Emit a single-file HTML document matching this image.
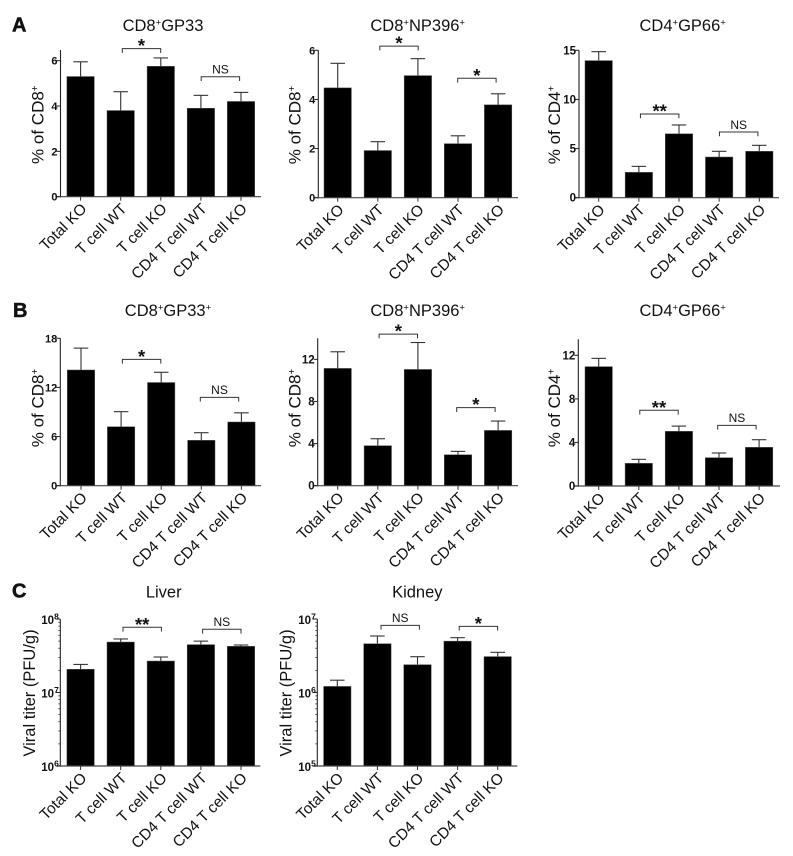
<!DOCTYPE html>
<html lang="en">
<head>
<meta charset="utf-8">
<title>T cell knockout bar charts</title>
<style>
html,body{margin:0;padding:0;background:#fff;}
svg{display:block;}
text{font-family:"Liberation Sans",Arial,sans-serif;fill:#111;}
</style>
</head>
<body>
<svg id="figure" width="793" height="856" viewBox="0 0 793 856" xmlns="http://www.w3.org/2000/svg">
  <text x="12" y="31.5" font-size="20" font-weight="bold" stroke="#111" stroke-width="0.5">A</text>
  <text x="13" y="317" font-size="20" font-weight="bold" stroke="#111" stroke-width="0.5">B</text>
  <text x="12" y="597.5" font-size="20" font-weight="bold" stroke="#111" stroke-width="0.5">C</text>
</svg>
<script>
const categories = ['Total KO', 'T cell WT', 'T cell KO', 'CD4 T cell WT', 'CD4 T cell KO'];

const a1Values = [5.3, 3.8, 5.75, 3.9, 4.2];
const a1ErrorTops = [5.95, 4.63, 6.12, 4.47, 4.6];
const a1Ticks = [0, 2, 4, 6];
const a1Brackets = [
  { from: 1, to: 2, level: 6.53, label: '*', shift: 1.6 },
  { from: 3, to: 4, level: 5.29, label: 'NS', shift: 0.3 }
];

const a2Values = [4.47, 1.92, 4.97, 2.2, 3.78];
const a2ErrorTops = [5.47, 2.28, 5.66, 2.52, 4.23];
const a2Ticks = [0, 2, 4, 6];
const a2Brackets = [
  { from: 1, to: 2, level: 6.17, label: '*', shift: 2 },
  { from: 3, to: 4, level: 4.86, label: '*', shift: -0.3 }
];

const a3Values = [13.95, 2.58, 6.5, 4.14, 4.72];
const a3ErrorTops = [14.86, 3.19, 7.4, 4.72, 5.33];
const a3Ticks = [0, 5, 10, 15];
const a3Brackets = [
  { from: 1, to: 2, level: 8.52, label: '**', shift: 1.6 },
  { from: 3, to: 4, level: 6.69, label: 'NS', shift: 0.3 }
];

const b1Values = [14.13, 7.2, 12.6, 5.54, 7.78];
const b1ErrorTops = [16.8, 9.04, 13.85, 6.47, 8.9];
const b1Ticks = [0, 6, 12, 18];
const b1Brackets = [
  { from: 1, to: 2, level: 15.43, label: '*', shift: 1.3 },
  { from: 3, to: 4, level: 10.79, label: 'NS', shift: -1 }
];

const b2Values = [11.14, 3.8, 11.04, 2.94, 5.25];
const b2ErrorTops = [12.72, 4.46, 13.6, 3.26, 6.14];
const b2Ticks = [0, 4, 8, 12];
const b2Brackets = [
  { from: 1, to: 2, level: 14.4, label: '*', shift: 1.3 },
  { from: 3, to: 4, level: 7.41, label: '*', shift: -1.3 }
];

const b3Values = [10.96, 2.08, 5.02, 2.6, 3.55];
const b3ErrorTops = [11.72, 2.45, 5.5, 3.03, 4.25];
const b3Ticks = [0, 4, 8, 12];
const b3Brackets = [
  { from: 1, to: 2, level: 6.95, label: '**', shift: 1 },
  { from: 3, to: 4, level: 5.57, label: 'NS', shift: -1.3 }
];

const c1Values = [2.07e7, 4.86e7, 2.68e7, 4.48e7, 4.25e7];
const c1ErrorTops = [2.41e7, 5.35e7, 3.04e7, 5.0e7, 4.43e7];
const c1TickExponents = [6, 7, 8];
const c1Brackets = [
  { from: 1, to: 2, level: 7.71e7, label: '**', shift: 2.3 },
  { from: 3, to: 4, level: 7.24e7, label: 'NS', shift: 1.7 }
];

const c2Values = [1.21e6, 4.61e6, 2.39e6, 5.0e6, 3.08e6];
const c2ErrorTops = [1.47e6, 5.87e6, 3.07e6, 5.57e6, 3.52e6];
const c2TickExponents = [5, 6, 7];
const c2Brackets = [
  { from: 1, to: 2, level: 8.2e6, label: 'NS', shift: 3.6 },
  { from: 3, to: 4, level: 7.95e6, label: '*', shift: 1.6 }
];

const SVG_NS = 'http://www.w3.org/2000/svg';
const figure = document.getElementById('figure');

function addShape(parent, tag, attrs) {
  const el = document.createElementNS(SVG_NS, tag);
  for (const key in attrs) el.setAttribute(key, attrs[key]);
  parent.appendChild(el);
  return el;
}

function addSegments(textEl, segments) {
  segments.forEach(function (seg) {
    const span = document.createElementNS(SVG_NS, 'tspan');
    if (seg.sup) {
      span.setAttribute('font-size', seg.sup);
      span.setAttribute('dy', seg.rise);
    } else if (seg.drop) {
      span.setAttribute('dy', seg.drop);
    }
    span.textContent = seg.text;
    textEl.appendChild(span);
  });
}

// "+" becomes a small raised glyph, everything else stays at body size.
function markedSegments(label, size) {
  const rise = size * 0.32;
  const out = [];
  let pending = 0;
  label.split(/(\+)/).forEach(function (part) {
    if (!part) return;
    if (part === '+') {
      out.push({ text: '+', sup: size * 0.58, rise: -rise });
      pending = rise;
    } else {
      out.push({ text: part, drop: pending });
      pending = 0;
    }
  });
  return out;
}

function drawPanel(cfg) {
  const g = addShape(figure, 'g', {});
  
  

  const yScale = cfg.log
    ? function (v) {
        const lo = Math.log10(cfg.domainMin), hi = Math.log10(cfg.domainMax);
        return cfg.bottom - (Math.log10(v) - lo) / (hi - lo) * (cfg.bottom - cfg.top);
      }
    : function (v) {
        return cfg.bottom - v / cfg.domainMax * (cfg.bottom - cfg.top);
      };
  const xScale = function (i) { return cfg.firstX + i * cfg.step; };
  const barW = 27.4;
  const capW = 14.5;

  // bars and error bars
  cfg.values.forEach(function (v, i) {
    const cx = xScale(i);
    const top = yScale(v);
    const err = yScale(cfg.errorTops[i]);
    const stem = addShape(g, 'line', { x1: cx, x2: cx, y1: top, y2: err, stroke: '#333', 'stroke-width': 1.1 });
    
    
    const cap = addShape(g, 'line', { x1: cx - capW / 2, x2: cx + capW / 2, y1: err, y2: err, stroke: '#333', 'stroke-width': 1.1 });
    
    
    const bar = addShape(g, 'rect', { x: cx - barW / 2, y: top, width: barW, height: cfg.bottom - top, fill: '#000', stroke: '#555', 'stroke-width': 0.5 });
    
    
  });

  // axes
  const yAxis = addShape(g, 'line', { x1: cfg.axisX, x2: cfg.axisX, y1: cfg.top, y2: cfg.bottom + 0.6, stroke: '#222', 'stroke-width': 1.1 });
  
  
  const xAxis = addShape(g, 'line', { x1: cfg.axisX - 4, x2: cfg.axisEnd, y1: cfg.bottom, y2: cfg.bottom, stroke: '#444', 'stroke-width': 1.2 });
  
  

  // y ticks
  if (cfg.log) {
    cfg.tickExponents.forEach(function (e, idx) {
      const p = Math.pow(10, e);
      const y = yScale(p);
      const tick = addShape(g, 'line', { x1: cfg.axisX - 4, x2: cfg.axisX, y1: y, y2: y, stroke: '#222', 'stroke-width': 1 });
      
      
      const label = addShape(g, 'text', { x: cfg.axisX - 1.5, y: y + 5, 'text-anchor': 'end', 'font-size': 11.5, 'font-weight': 'bold' });
      
      
      addSegments(label, [{ text: '10' }, { text: String(e), sup: 8.5, rise: -4.5 }]);
      if (idx < cfg.tickExponents.length - 1) {
        for (let m = 2; m <= 9; m++) {
          const ym = yScale(m * p);
          const minor = addShape(g, 'line', { x1: cfg.axisX - 2, x2: cfg.axisX, y1: ym, y2: ym, stroke: '#333', 'stroke-width': 0.8 });
          
          
        }
      }
    });
  } else {
    cfg.ticks.forEach(function (t) {
      const y = yScale(t);
      const tick = addShape(g, 'line', { x1: cfg.axisX - 4, x2: cfg.axisX, y1: y, y2: y, stroke: '#222', 'stroke-width': 1 });
      
      
      const label = addShape(g, 'text', { x: cfg.axisX - 3, y: y + 4, 'text-anchor': 'end', 'font-size': cfg.tickSize, 'font-weight': 'bold' });
      
      
      label.textContent = t;
    });
  }

  // x ticks and rotated category labels
  categories.forEach(function (c, i) {
    const cx = xScale(i);
    const tick = addShape(g, 'line', { x1: cx, x2: cx, y1: cfg.bottom, y2: cfg.bottom + 4, stroke: '#333', 'stroke-width': 1 });
    
    
    const lx = cx + 7;
    const ly = cfg.bottom + 13;
    const label = addShape(g, 'text', { x: lx, y: ly, 'text-anchor': 'end', 'font-size': 15.4, transform: 'rotate(-45 ' + lx + ' ' + ly + ')' });
    
    
    label.textContent = c;
  });

  // significance brackets
  cfg.brackets.forEach(function (b) {
    const x1 = xScale(b.from) + b.shift;
    const x2 = xScale(b.to) + b.shift - 1.7;
    const y = yScale(b.level);
    const path = addShape(g, 'path', { d: 'M' + x1 + ' ' + (y + 4.3) + 'V' + y + 'H' + x2 + 'V' + (y + 4.3), fill: 'none', stroke: '#333', 'stroke-width': 1 });
    
    
    const isStar = b.label !== 'NS';
    const mark = addShape(g, 'text', {
      x: (x1 + x2) / 2,
      y: isStar ? y + 3.5 : y - 3.2,
      'text-anchor': 'middle',
      'font-size': isStar ? 18.5 : 12,
      'font-weight': isStar ? 'bold' : 'normal'
    });
    
    
    mark.textContent = b.label;
  });

  // title
  const title = addShape(g, 'text', { x: cfg.titleX, y: cfg.titleY, 'text-anchor': 'middle', 'font-size': 16.5 });
  
  
  addSegments(title, markedSegments(cfg.title, 16.5));

  // y-axis title
  const yTitleSize = cfg.log ? 16.5 : 17;
  const yTitle = addShape(g, 'text', {
    x: cfg.yTitleX, y: cfg.yTitleY, 'text-anchor': 'middle', 'font-size': yTitleSize,
    transform: 'rotate(-90 ' + cfg.yTitleX + ' ' + cfg.yTitleY + ')'
  });
  
  
  addSegments(yTitle, markedSegments(cfg.yTitle, yTitleSize));
}

drawPanel({ name: 'chart-a-gp33', title: 'CD8+GP33', yTitle: '% of CD8+', values: a1Values, errorTops: a1ErrorTops, ticks: a1Ticks, brackets: a1Brackets, tickSize: 11,
  domainMax: 6.47, top: 50, bottom: 196.7, axisX: 60.5, axisEnd: 261, firstX: 80.6, step: 40.1, titleX: 163, titleY: 31, yTitleX: 43.5, yTitleY: 124.7 });
drawPanel({ name: 'chart-a-np396', title: 'CD8+NP396+', yTitle: '% of CD8+', values: a2Values, errorTops: a2ErrorTops, ticks: a2Ticks, brackets: a2Brackets, tickSize: 11,
  domainMax: 6, top: 50.3, bottom: 197.7, axisX: 318.3, axisEnd: 518, firstX: 337.7, step: 40.1, titleX: 417.7, titleY: 31, yTitleX: 300.7, yTitleY: 125 });
drawPanel({ name: 'chart-a-gp66', title: 'CD4+GP66+', yTitle: '% of CD4+', values: a3Values, errorTops: a3ErrorTops, ticks: a3Ticks, brackets: a3Brackets, tickSize: 11.5,
  domainMax: 15, top: 50.3, bottom: 197.7, axisX: 579, axisEnd: 779, firstX: 598.7, step: 40.15, titleX: 682.7, titleY: 31, yTitleX: 560, yTitleY: 125 });

drawPanel({ name: 'chart-b-gp33', title: 'CD8+GP33+', yTitle: '% of CD8+', values: b1Values, errorTops: b1ErrorTops, ticks: b1Ticks, brackets: b1Brackets, tickSize: 11,
  domainMax: 18, top: 338.3, bottom: 485.7, axisX: 60.3, axisEnd: 261, firstX: 81, step: 40.1, titleX: 168, titleY: 316, yTitleX: 43.5, yTitleY: 408 });
drawPanel({ name: 'chart-b-np396', title: 'CD8+NP396+', yTitle: '% of CD8+', values: b2Values, errorTops: b2ErrorTops, ticks: b2Ticks, brackets: b2Brackets, tickSize: 11.5,
  domainMax: 14, top: 338.3, bottom: 485.7, axisX: 317.7, axisEnd: 518, firstX: 337.7, step: 40.1, titleX: 417.7, titleY: 316, yTitleX: 300.7, yTitleY: 408 });
drawPanel({ name: 'chart-b-gp66', title: 'CD4+GP66+', yTitle: '% of CD4+', values: b3Values, errorTops: b3ErrorTops, ticks: b3Ticks, brackets: b3Brackets, tickSize: 11.5,
  domainMax: 13.47, top: 339.3, bottom: 486, axisX: 578.3, axisEnd: 780, firstX: 598.7, step: 40.1, titleX: 682.7, titleY: 316, yTitleX: 560, yTitleY: 408 });

drawPanel({ name: 'chart-c-liver', title: 'Liver', yTitle: 'Viral titer (PFU/g)', log: true, values: c1Values, errorTops: c1ErrorTops, tickExponents: c1TickExponents, brackets: c1Brackets,
  domainMin: 1e6, domainMax: 1e8, top: 619, bottom: 766, axisX: 60.3, axisEnd: 260.3, firstX: 80.6, step: 40.1, titleX: 163.7, titleY: 597.7, yTitleX: 35, yTitleY: 693 });
drawPanel({ name: 'chart-c-kidney', title: 'Kidney', yTitle: 'Viral titer (PFU/g)', log: true, values: c2Values, errorTops: c2ErrorTops, tickExponents: c2TickExponents, brackets: c2Brackets,
  domainMin: 1e5, domainMax: 1e7, top: 619, bottom: 766, axisX: 317.3, axisEnd: 517.3, firstX: 337.3, step: 40.1, titleX: 417.3, titleY: 597.7, yTitleX: 291.7, yTitleY: 693 });
</script>
</body>
</html>
